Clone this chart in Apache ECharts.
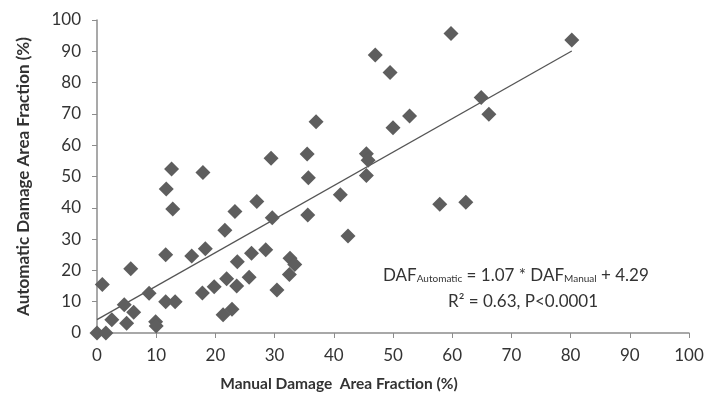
<!DOCTYPE html>
<html>
<head>
<meta charset="utf-8">
<script src="https://cdn.jsdelivr.net/npm/echarts@6/dist/echarts.min.js"></script>
<style>
html,body{margin:0;padding:0;background:#fff;}
#chart{width:714px;height:406px;}
</style>
</head>
<body>
<div id="chart"></div>
<script>
var manualDAF = [0, 1.5, 0.9, 2.5, 4.6, 5.0, 6.2, 5.7, 8.8, 9.9, 10.0, 11.6, 13.2, 11.6, 11.7, 12.6, 12.8, 16.0, 17.9, 18.3,
  17.8, 19.8, 21.9, 21.6, 21.3, 22.8, 23.3, 23.6, 23.7, 25.7, 26.1, 27.0, 28.5, 29.4, 29.6, 30.4, 32.5, 32.6, 33.4, 35.5,
  35.7, 35.6, 37.0, 41.1, 42.4, 45.5, 45.8, 45.5, 47.0, 49.5, 50.0, 52.8, 57.9, 59.8, 62.3, 64.9, 66.2, 80.2];
var autoDAF = [0, 0, 15.5, 4.2, 9.0, 3.1, 6.6, 20.5, 12.7, 3.6, 2.2, 10.0, 10.0, 25.0, 46.0, 52.4, 39.6, 24.6, 51.3, 26.9,
  12.8, 14.8, 17.3, 32.8, 5.8, 7.6, 38.8, 15.0, 22.8, 17.8, 25.5, 42.0, 26.6, 55.8, 36.8, 13.7, 18.7, 23.9, 21.9, 57.2,
  49.6, 37.7, 67.5, 44.2, 31.0, 57.3, 55.2, 50.3, 88.8, 83.2, 65.6, 69.3, 41.1, 95.7, 41.8, 75.2, 69.9, 93.6];
var fitSlope = 1.07;
var fitIntercept = 4.29;
var fitRange = [0, 80.2];
var axisTicks = [0, 10, 20, 30, 40, 50, 60, 70, 80, 90, 100];

var points = manualDAF.map(function (x, i) { return [x, autoDAF[i]]; });
var fitLine = fitRange.map(function (x) { return [x, fitSlope * x + fitIntercept]; });

var FONT = 'Lato';
var chart = echarts.init(document.getElementById('chart'), null, {renderer: 'canvas'});
chart.setOption({
  animation: false,
  backgroundColor: '#ffffff',
  grid: {left: 97, right: 25, top: 20, bottom: 73, containLabel: false},
  xAxis: {
    type: 'value', min: axisTicks[0], max: axisTicks[axisTicks.length - 1], interval: 10,
    name: 'Manual Damage  Area Fraction (%)',
    nameLocation: 'middle', nameGap: 43,
    nameTextStyle: {fontFamily: FONT, fontWeight: 'bold', fontSize: 15.5, color: '#333', padding: [0, 108, 0, 0]},
    axisLine: {show: true, lineStyle: {color: '#8c8c8c', width: 1.5}},
    axisTick: {show: true, inside: false, length: 5, lineStyle: {color: '#8c8c8c'}},
    axisLabel: {fontFamily: FONT, fontSize: 17, color: '#333', margin: 14},
    splitLine: {show: false}
  },
  yAxis: {
    type: 'value', min: axisTicks[0], max: axisTicks[axisTicks.length - 1], interval: 10,
    name: 'Automatic Damage Area Fraction (%)',
    nameLocation: 'middle', nameGap: 65, nameRotate: 90,
    nameTextStyle: {fontFamily: FONT, fontWeight: 'bold', fontSize: 17, color: '#333'},
    axisLine: {show: true, lineStyle: {color: '#8c8c8c', width: 1.5}},
    axisTick: {show: true, inside: false, length: 5, lineStyle: {color: '#8c8c8c'}},
    axisLabel: {fontFamily: FONT, fontSize: 17, color: '#333', margin: 16},
    splitLine: {show: false}
  },
  series: [
    {
      type: 'line', data: fitLine, symbol: 'none', silent: true,
      lineStyle: {color: '#555', width: 1.3}, z: 1
    },
    {
      type: 'scatter', data: points, symbol: 'diamond', symbolSize: 15,
      itemStyle: {color: '#5e5e5e', opacity: 1}, z: 2
    }
  ],
  graphic: [
    {
      type: 'text', left: 383, top: 267, z: 10,
      style: {
        text: '{m|DAF}{s|Automatic}{m| = 1.07 * DAF}{s|Manual}{m| + 4.29}',
        rich: {
          m: {fontFamily: FONT, fontSize: 17, fill: '#333', verticalAlign: 'bottom', lineHeight: 22},
          s: {fontFamily: FONT, fontSize: 10, fill: '#333', verticalAlign: 'bottom', lineHeight: 18}
        }
      }
    },
    {
      type: 'text', left: 448, top: 293, z: 10,
      style: {
        text: 'R² = 0.63, P<0.0001',
        font: '17px ' + FONT, fill: '#333'
      }
    }
  ]
});
</script>
</body>
</html>
